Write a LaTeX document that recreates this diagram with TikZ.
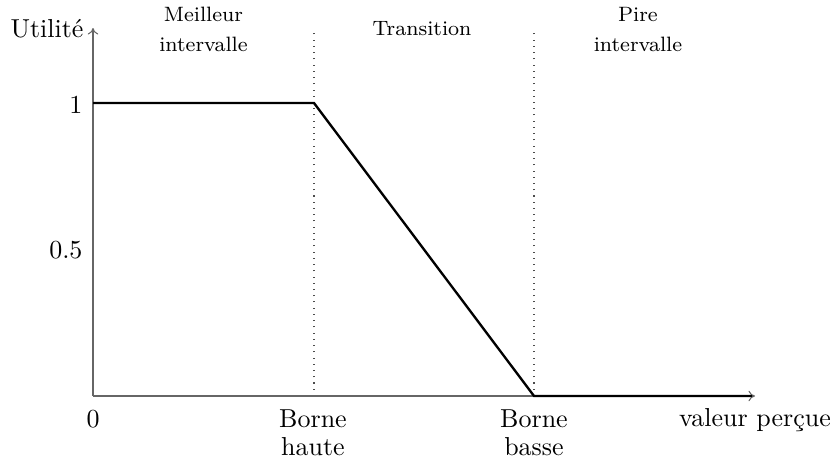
\documentclass[tikz,border=0pt]{standalone}
\usetikzlibrary{arrows.meta}
\begin{document}
\begin{tikzpicture}[x=0.385pt,y=-0.385pt,
  axis/.style={draw=black!60, line width=0.4pt, -{To[length=2.5pt,width=4pt]}},
  curve/.style={draw=black, line width=0.9pt},
  bound/.style={draw=black!70, line width=0.4pt, dotted},
  zone/.style={font=\footnotesize, align=center, inner sep=0pt, anchor=base},
  tick/.style={inner sep=0pt}]
  % canvas
  \useasboundingbox (0,0) rectangle (832,464);
  % reference points
  \coordinate (O) at (93,396);
  \coordinate (ytop) at (93,28);
  \coordinate (xend) at (755,396);
  \coordinate (one) at (93,103);
  \coordinate (half) at (93,250);
  \coordinate (hi) at (314,103);
  \coordinate (hib) at (314,396);
  \coordinate (hit) at (314,30);
  \coordinate (lo) at (534,396);
  \coordinate (lot) at (534,30);
  \coordinate (fin) at (752,396);
  % dividing lines
  \draw[bound] (hib) -- (hit);
  \draw[bound] (lo) -- (lot);
  % axes
  \draw[axis] (O) -- (ytop);
  \draw[axis] (O) -- (xend);
  % utility curve
  \draw[curve] (one) -- (hi) -- (lo) -- (fin);
  % axis labels (multi-line nodes: base is the last line)
  \node[tick, anchor=base east] (ylab) at (84,38) {Utilit\'e};
  \node[tick, anchor=east] (l1) at (83,105) {1};
  \node[tick, anchor=east] (l05) at (83,250) {0.5};
  \node[tick, anchor=base] (l0) at (93,427) {0};
  \node[tick, anchor=base, align=center] (bh) at (313,455) {Borne\\[-1.4pt]haute};
  \node[tick, anchor=base, align=center] (bb) at (534,455) {Borne\\[-1.4pt]basse};
  \node[tick, anchor=base] (xlab) at (755,426) {valeur per\c{c}ue};
  % interval labels
  \node[zone] (best) at (203.5,51.7) {Meilleur\\[2pt]intervalle};
  \node[zone] (trans) at (422,35) {Transition};
  \node[zone] (worst) at (638,51.7) {Pire\\[2pt]intervalle};
\end{tikzpicture}
\end{document}
